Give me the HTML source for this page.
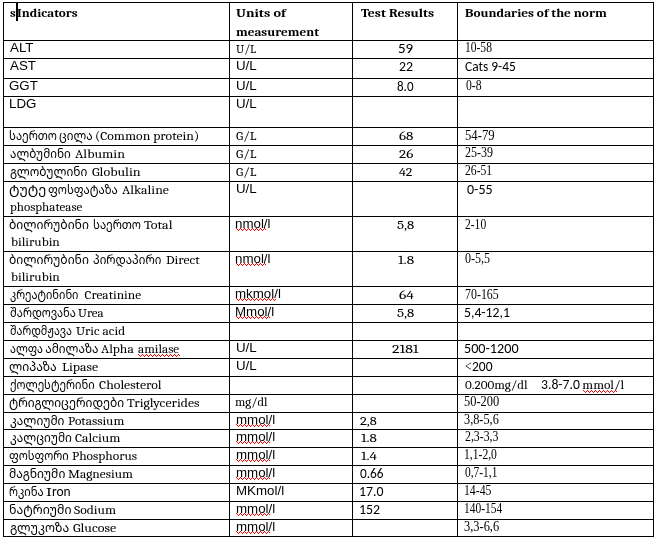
<!DOCTYPE html>
<html lang="ka"><head><meta charset="utf-8"><title>Indicators</title>
<style>
html,body{margin:0;padding:0;background:#fff;}
body{width:659px;height:544px;position:relative;overflow:hidden;color:#000;}
table{position:absolute;left:3px;top:2px;border-collapse:separate;border-spacing:0;table-layout:fixed;width:651px;border-left:1px solid #000;border-top:1px solid #000;}
td{position:relative;padding:0;border-right:1px solid #000;border-bottom:1px solid #000;vertical-align:top;overflow:visible;}
.t{position:absolute;line-height:16px;white-space:nowrap;transform-origin:0 0;}
.ar{font-family:'Liberation Sans', Arial, sans-serif;font-size:13.7px;font-weight:normal;}
.ca{font-family:'Caladea', 'Liberation Serif', serif;font-size:13.333px;font-weight:normal;}
.cab{font-family:'Caladea', 'Liberation Serif', serif;font-size:12.4px;font-weight:bold;}
.cb{font-family:'Carlito', 'Liberation Sans', sans-serif;font-size:13.333px;font-weight:normal;}
.sy{font-family:'Liberation Serif', serif;font-size:13.8px;font-weight:normal;}
.ge{font-family:'Noto Sans Georgian', 'DejaVu Sans', sans-serif;font-size:11.8px;font-weight:400;}
.cur{position:absolute;left:12px;top:0;width:2px;height:18px;background:#000;}
svg.sq{position:absolute;overflow:visible;}
</style></head><body>
<table>
<colgroup><col style="width:226px"><col style="width:123px"><col style="width:105px"><col style="width:196px"></colgroup>
<tr style="height:38px">
<td><div class="t cab" style="left:6.10px;top:2.00px;transform:scaleX(1.0400);">s</div><div class="t cab" style="left:13.10px;top:2.00px;transform:scaleX(1.0649);">Indicators</div><div class="cur"></div></td>
<td><div class="t cab" style="left:6.40px;top:2.00px;transform:scaleX(1.1477);">Units of</div><div class="t cab" style="left:6.40px;top:21.00px;transform:scaleX(1.0615);">measurement</div></td>
<td><div class="t cab" style="left:8.10px;top:2.00px;transform:scaleX(1.1030);">Test Results</div></td>
<td><div class="t cab" style="left:7.20px;top:2.00px;transform:scaleX(1.0720);">Boundaries of the norm</div></td>
</tr>
<tr style="height:18px">
<td><div class="t ar" style="left:6.00px;top:-1.00px;transform:scaleX(0.9732);">ALT</div></td>
<td><div class="t ca" style="left:6.30px;top:0.00px;transform:scaleX(0.9000);">U/L</div></td>
<td><div class="t cb" style="left:44.88px;top:0.00px;transform:scaleX(1.1250);">59</div></td>
<td><div class="t sy" style="left:7.16px;top:-1.00px;transform:scaleX(0.8355);">10-58</div></td>
</tr>
<tr style="height:20px">
<td><div class="t ar" style="left:6.00px;top:-1.00px;transform:scaleX(0.9732);">AST</div></td>
<td><div class="t ar" style="left:5.53px;top:-1.00px;transform:scaleX(0.9732);">U/L</div></td>
<td><div class="t cb" style="left:46.00px;top:0.00px;transform:scaleX(1.0385);">22</div></td>
<td><div class="t cb" style="left:7.30px;top:0.00px;transform:scaleX(1.0080);">Cats 9-45</div></td>
</tr>
<tr style="height:18px">
<td><div class="t ar" style="left:5.03px;top:-1.00px;transform:scaleX(0.9732);">GGT</div></td>
<td><div class="t ar" style="left:5.53px;top:-1.00px;transform:scaleX(0.9732);">U/L</div></td>
<td><div class="t cb" style="left:43.90px;top:0.00px;transform:scaleX(0.9765);">8.0</div></td>
<td><div class="t sy" style="left:8.00px;top:-1.00px;transform:scaleX(0.8444);">0-8</div></td>
</tr>
<tr style="height:31px">
<td><div class="t ar" style="left:5.03px;top:-1.00px;transform:scaleX(0.9732);">LDG</div></td>
<td><div class="t ar" style="left:5.53px;top:-1.00px;transform:scaleX(0.9732);">U/L</div></td>
<td></td>
<td></td>
</tr>
<tr style="height:18px">
<td><div class="t ge" style="left:5.43px;top:-1.00px;transform:scaleX(0.9667);">საერთო</div><div class="t ge" style="left:55.01px;top:-1.00px;transform:scaleX(0.9906);">ცილა</div><div class="t ca" style="left:91.27px;top:0.00px;transform:scaleX(1.0250);">(Common protein)</div></td>
<td><div class="t ca" style="left:6.20px;top:0.00px;transform:scaleX(0.9950);">G/L</div></td>
<td><div class="t ca" style="left:45.80px;top:0.00px;transform:scaleX(1.1333);">68</div></td>
<td><div class="t sy" style="left:6.68px;top:0.00px;transform:scaleX(0.9226);">54-79</div></td>
</tr>
<tr style="height:18px">
<td><div class="t ge" style="left:6.10px;top:-1.00px;transform:scaleX(0.9902);">ალბუმინი</div><div class="t ca" style="left:71.20px;top:0.00px;transform:scaleX(1.0468);">Albumin</div></td>
<td><div class="t ca" style="left:6.20px;top:0.00px;transform:scaleX(0.9950);">G/L</div></td>
<td><div class="t ca" style="left:45.80px;top:0.00px;transform:scaleX(1.1333);">26</div></td>
<td><div class="t sy" style="left:7.30px;top:-1.00px;transform:scaleX(0.8688);">25-39</div></td>
</tr>
<tr style="height:18px">
<td><div class="t ge" style="left:6.30px;top:-1.00px;transform:scaleX(1.0066);">გლობულინი</div><div class="t ca" style="left:87.50px;top:0.00px;transform:scaleX(1.0543);">Globulin</div></td>
<td><div class="t ca" style="left:6.20px;top:0.00px;transform:scaleX(0.9950);">G/L</div></td>
<td><div class="t ca" style="left:45.80px;top:0.00px;transform:scaleX(1.0462);">42</div></td>
<td><div class="t sy" style="left:7.30px;top:-1.00px;transform:scaleX(0.8452);">26-51</div></td>
</tr>
<tr style="height:35px">
<td><div class="t ge" style="left:5.14px;top:-1.00px;transform:scaleX(1.1600);">ტუტე</div><div class="t ge" style="left:44.23px;top:-1.00px;transform:scaleX(0.9662);">ფოსფატაზა</div><div class="t ca" style="left:117.90px;top:0.00px;transform:scaleX(1.0333);">Alkaline</div><div class="t ca" style="left:6.30px;top:17.00px;transform:scaleX(0.9770);">phosphatease</div></td>
<td><div class="t ar" style="left:5.53px;top:-1.00px;transform:scaleX(0.9732);">U/L</div></td>
<td></td>
<td><div class="t cb" style="left:8.80px;top:0.00px;transform:scaleX(1.0500);">0-55</div></td>
</tr>
<tr style="height:35px">
<td><div class="t ge" style="left:5.27px;top:-1.00px;transform:scaleX(1.0263);">ბილირუბინი</div><div class="t ge" style="left:88.53px;top:-1.00px;transform:scaleX(0.9667);">საერთო</div><div class="t ca" style="left:140.00px;top:0.00px;transform:scaleX(1.0519);">Total</div><div class="t ca" style="left:6.90px;top:17.00px;transform:scaleX(1.0063);">bilirubin</div></td>
<td><div class="t ar" style="left:5.43px;top:-1.00px;transform:scaleX(0.9732);">nmol/l</div><svg class="sq" style="left:6px;top:11px" width="30" height="3" shape-rendering="crispEdges"><path d="M0 0h1v1h-1zM1 1h1v1h-1zM2 2h1v1h-1zM3 1h1v1h-1zM4 0h1v1h-1zM5 1h1v1h-1zM6 2h1v1h-1zM7 1h1v1h-1zM8 0h1v1h-1zM9 1h1v1h-1zM10 2h1v1h-1zM11 1h1v1h-1zM12 0h1v1h-1zM13 1h1v1h-1zM14 2h1v1h-1zM15 1h1v1h-1zM16 0h1v1h-1zM17 1h1v1h-1zM18 2h1v1h-1zM19 1h1v1h-1zM20 0h1v1h-1zM21 1h1v1h-1zM22 2h1v1h-1zM23 1h1v1h-1zM24 0h1v1h-1zM25 1h1v1h-1zM26 2h1v1h-1zM27 1h1v1h-1zM28 0h1v1h-1zM29 1h1v1h-1z" fill="#f00"/></svg></td>
<td><div class="t ca" style="left:43.80px;top:0.00px;transform:scaleX(1.1133);">5,8</div></td>
<td><div class="t sy" style="left:7.40px;top:0.00px;transform:scaleX(0.8360);">2-10</div></td>
</tr>
<tr style="height:35px">
<td><div class="t ge" style="left:5.27px;top:-1.00px;transform:scaleX(1.0263);">ბილირუბინი</div><div class="t ge" style="left:89.20px;top:-1.00px;transform:scaleX(0.9797);">პირდაპირი</div><div class="t ca" style="left:162.30px;top:0.00px;transform:scaleX(1.0242);">Direct</div><div class="t ca" style="left:6.90px;top:17.00px;transform:scaleX(1.0063);">bilirubin</div></td>
<td><div class="t ar" style="left:5.43px;top:-1.00px;transform:scaleX(0.9732);">nmol/l</div><svg class="sq" style="left:6px;top:11px" width="30" height="3" shape-rendering="crispEdges"><path d="M0 0h1v1h-1zM1 1h1v1h-1zM2 2h1v1h-1zM3 1h1v1h-1zM4 0h1v1h-1zM5 1h1v1h-1zM6 2h1v1h-1zM7 1h1v1h-1zM8 0h1v1h-1zM9 1h1v1h-1zM10 2h1v1h-1zM11 1h1v1h-1zM12 0h1v1h-1zM13 1h1v1h-1zM14 2h1v1h-1zM15 1h1v1h-1zM16 0h1v1h-1zM17 1h1v1h-1zM18 2h1v1h-1zM19 1h1v1h-1zM20 0h1v1h-1zM21 1h1v1h-1zM22 2h1v1h-1zM23 1h1v1h-1zM24 0h1v1h-1zM25 1h1v1h-1zM26 2h1v1h-1zM27 1h1v1h-1zM28 0h1v1h-1zM29 1h1v1h-1z" fill="#f00"/></svg></td>
<td><div class="t ca" style="left:44.50px;top:0.00px;transform:scaleX(1.1429);">1.8</div></td>
<td><div class="t sy" style="left:7.40px;top:-1.00px;transform:scaleX(0.8714);">0-5,5</div></td>
</tr>
<tr style="height:18px">
<td><div class="t ge" style="left:5.90px;top:-1.00px;transform:scaleX(0.9384);">კრეატინინი</div><div class="t ca" style="left:80.50px;top:0.00px;">Creatinine</div></td>
<td><div class="t ar" style="left:5.43px;top:-1.00px;transform:scaleX(0.9732);">mkmol/l</div><svg class="sq" style="left:6px;top:11px" width="40" height="3" shape-rendering="crispEdges"><path d="M0 0h1v1h-1zM1 1h1v1h-1zM2 2h1v1h-1zM3 1h1v1h-1zM4 0h1v1h-1zM5 1h1v1h-1zM6 2h1v1h-1zM7 1h1v1h-1zM8 0h1v1h-1zM9 1h1v1h-1zM10 2h1v1h-1zM11 1h1v1h-1zM12 0h1v1h-1zM13 1h1v1h-1zM14 2h1v1h-1zM15 1h1v1h-1zM16 0h1v1h-1zM17 1h1v1h-1zM18 2h1v1h-1zM19 1h1v1h-1zM20 0h1v1h-1zM21 1h1v1h-1zM22 2h1v1h-1zM23 1h1v1h-1zM24 0h1v1h-1zM25 1h1v1h-1zM26 2h1v1h-1zM27 1h1v1h-1zM28 0h1v1h-1zM29 1h1v1h-1zM30 2h1v1h-1zM31 1h1v1h-1zM32 0h1v1h-1zM33 1h1v1h-1zM34 2h1v1h-1zM35 1h1v1h-1zM36 0h1v1h-1zM37 1h1v1h-1zM38 2h1v1h-1zM39 1h1v1h-1z" fill="#f00"/></svg></td>
<td><div class="t ca" style="left:45.90px;top:0.00px;transform:scaleX(1.1583);">64</div></td>
<td><div class="t sy" style="left:7.24px;top:0.00px;transform:scaleX(0.8632);">70-165</div></td>
</tr>
<tr style="height:18px">
<td><div class="t ge" style="left:5.90px;top:-1.00px;transform:scaleX(0.9493);">შარდოვანა</div><div class="t ca" style="left:74.30px;top:0.00px;transform:scaleX(0.9731);">Urea</div></td>
<td><div class="t ar" style="left:5.43px;top:-1.00px;transform:scaleX(0.9732);">Mmol/l</div><svg class="sq" style="left:6px;top:11px" width="34" height="3" shape-rendering="crispEdges"><path d="M0 0h1v1h-1zM1 1h1v1h-1zM2 2h1v1h-1zM3 1h1v1h-1zM4 0h1v1h-1zM5 1h1v1h-1zM6 2h1v1h-1zM7 1h1v1h-1zM8 0h1v1h-1zM9 1h1v1h-1zM10 2h1v1h-1zM11 1h1v1h-1zM12 0h1v1h-1zM13 1h1v1h-1zM14 2h1v1h-1zM15 1h1v1h-1zM16 0h1v1h-1zM17 1h1v1h-1zM18 2h1v1h-1zM19 1h1v1h-1zM20 0h1v1h-1zM21 1h1v1h-1zM22 2h1v1h-1zM23 1h1v1h-1zM24 0h1v1h-1zM25 1h1v1h-1zM26 2h1v1h-1zM27 1h1v1h-1zM28 0h1v1h-1zM29 1h1v1h-1zM30 2h1v1h-1zM31 1h1v1h-1zM32 0h1v1h-1zM33 1h1v1h-1z" fill="#f00"/></svg></td>
<td><div class="t ca" style="left:43.80px;top:0.00px;transform:scaleX(1.1133);">5,8</div></td>
<td><div class="t cb" style="left:6.07px;top:0.00px;transform:scaleX(1.0302);">5,4-12,1</div></td>
</tr>
<tr style="height:18px">
<td><div class="t ge" style="left:5.90px;top:-1.00px;transform:scaleX(0.9224);">შარდმჟავა</div><div class="t ca" style="left:71.90px;top:0.00px;">Uric acid</div></td>
<td></td>
<td></td>
<td></td>
</tr>
<tr style="height:18px">
<td><div class="t ge" style="left:6.30px;top:-1.00px;transform:scaleX(0.9229);">ალფა</div><div class="t ge" style="left:41.20px;top:-1.00px;">ამილაზა</div><div class="t ca" style="left:97.10px;top:0.00px;transform:scaleX(1.0187);">Alpha</div><div class="t ca" style="left:134.40px;top:0.00px;transform:scaleX(0.9833);">amilase</div><svg class="sq" style="left:134px;top:13px" width="42" height="3" shape-rendering="crispEdges"><path d="M0 0h1v1h-1zM1 1h1v1h-1zM2 2h1v1h-1zM3 1h1v1h-1zM4 0h1v1h-1zM5 1h1v1h-1zM6 2h1v1h-1zM7 1h1v1h-1zM8 0h1v1h-1zM9 1h1v1h-1zM10 2h1v1h-1zM11 1h1v1h-1zM12 0h1v1h-1zM13 1h1v1h-1zM14 2h1v1h-1zM15 1h1v1h-1zM16 0h1v1h-1zM17 1h1v1h-1zM18 2h1v1h-1zM19 1h1v1h-1zM20 0h1v1h-1zM21 1h1v1h-1zM22 2h1v1h-1zM23 1h1v1h-1zM24 0h1v1h-1zM25 1h1v1h-1zM26 2h1v1h-1zM27 1h1v1h-1zM28 0h1v1h-1zM29 1h1v1h-1zM30 2h1v1h-1zM31 1h1v1h-1zM32 0h1v1h-1zM33 1h1v1h-1zM34 2h1v1h-1zM35 1h1v1h-1zM36 0h1v1h-1zM37 1h1v1h-1zM38 2h1v1h-1zM39 1h1v1h-1zM40 0h1v1h-1zM41 1h1v1h-1z" fill="#f00"/></svg></td>
<td><div class="t ar" style="left:5.53px;top:-1.00px;transform:scaleX(0.9732);">U/L</div></td>
<td><div class="t ca" style="left:39.30px;top:0.00px;transform:scaleX(1.1864);">2181</div></td>
<td><div class="t cb" style="left:6.04px;top:0.00px;transform:scaleX(1.0620);">500-1200</div></td>
</tr>
<tr style="height:18px">
<td><div class="t ge" style="left:4.87px;top:-1.00px;transform:scaleX(1.0289);">ლიპაზა</div><div class="t ca" style="left:58.46px;top:0.00px;transform:scaleX(1.0424);">Lipase</div></td>
<td><div class="t ar" style="left:5.53px;top:-1.00px;transform:scaleX(0.9732);">U/L</div></td>
<td></td>
<td><div class="t sy" style="left:6.97px;top:0.00px;transform:scaleX(0.8333);">&lt;</div><div class="t cb" style="left:14.00px;top:0.00px;transform:scaleX(1.0150);">200</div></td>
</tr>
<tr style="height:18px">
<td><div class="t ge" style="left:5.90px;top:-1.00px;transform:scaleX(0.9483);">ქოლესტერინი</div><div class="t ca" style="left:95.40px;top:0.00px;transform:scaleX(1.0333);">Cholesterol</div></td>
<td></td>
<td></td>
<td><div class="t ca" style="left:7.20px;top:0.00px;transform:scaleX(0.9825);">0.200mg/dl</div><div class="t cb" style="left:82.97px;top:0.00px;transform:scaleX(1.0270);">3.8-7.0</div><div class="t ca" style="left:124.30px;top:0.00px;">mmol/l</div><svg class="sq" style="left:125px;top:13px" width="34" height="3" shape-rendering="crispEdges"><path d="M0 0h1v1h-1zM1 1h1v1h-1zM2 2h1v1h-1zM3 1h1v1h-1zM4 0h1v1h-1zM5 1h1v1h-1zM6 2h1v1h-1zM7 1h1v1h-1zM8 0h1v1h-1zM9 1h1v1h-1zM10 2h1v1h-1zM11 1h1v1h-1zM12 0h1v1h-1zM13 1h1v1h-1zM14 2h1v1h-1zM15 1h1v1h-1zM16 0h1v1h-1zM17 1h1v1h-1zM18 2h1v1h-1zM19 1h1v1h-1zM20 0h1v1h-1zM21 1h1v1h-1zM22 2h1v1h-1zM23 1h1v1h-1zM24 0h1v1h-1zM25 1h1v1h-1zM26 2h1v1h-1zM27 1h1v1h-1zM28 0h1v1h-1zM29 1h1v1h-1zM30 2h1v1h-1zM31 1h1v1h-1zM32 0h1v1h-1zM33 1h1v1h-1z" fill="#f00"/></svg></td>
</tr>
<tr style="height:18px">
<td><div class="t ge" style="left:4.89px;top:-1.00px;transform:scaleX(1.0125);">ტრიგლიცერიდები</div><div class="t ca" style="left:122.80px;top:0.00px;transform:scaleX(1.0357);">Triglycerides</div></td>
<td><div class="t ca" style="left:5.35px;top:-1.00px;transform:scaleX(0.9545);">mg/dl</div></td>
<td></td>
<td><div class="t sy" style="left:6.20px;top:-1.00px;transform:scaleX(0.9000);">50-200</div></td>
</tr>
<tr style="height:17px">
<td><div class="t ge" style="left:5.90px;top:-1.00px;transform:scaleX(1.0151);">კალიუმი</div><div class="t ca" style="left:64.30px;top:0.00px;transform:scaleX(1.0036);">Potassium</div></td>
<td><div class="t ar" style="left:5.63px;top:-1.00px;transform:scaleX(0.9732);">mmol/l</div><svg class="sq" style="left:6px;top:11px" width="34" height="3" shape-rendering="crispEdges"><path d="M0 0h1v1h-1zM1 1h1v1h-1zM2 2h1v1h-1zM3 1h1v1h-1zM4 0h1v1h-1zM5 1h1v1h-1zM6 2h1v1h-1zM7 1h1v1h-1zM8 0h1v1h-1zM9 1h1v1h-1zM10 2h1v1h-1zM11 1h1v1h-1zM12 0h1v1h-1zM13 1h1v1h-1zM14 2h1v1h-1zM15 1h1v1h-1zM16 0h1v1h-1zM17 1h1v1h-1zM18 2h1v1h-1zM19 1h1v1h-1zM20 0h1v1h-1zM21 1h1v1h-1zM22 2h1v1h-1zM23 1h1v1h-1zM24 0h1v1h-1zM25 1h1v1h-1zM26 2h1v1h-1zM27 1h1v1h-1zM28 0h1v1h-1zM29 1h1v1h-1zM30 2h1v1h-1zM31 1h1v1h-1zM32 0h1v1h-1zM33 1h1v1h-1z" fill="#f00"/></svg></td>
<td><div class="t ca" style="left:7.10px;top:0.00px;transform:scaleX(1.0800);">2,8</div></td>
<td><div class="t sy" style="left:6.31px;top:-1.00px;transform:scaleX(0.8895);">3,8-5,6</div></td>
</tr>
<tr style="height:18px">
<td><div class="t ge" style="left:5.90px;top:-1.00px;transform:scaleX(1.0066);">კალციუმი</div><div class="t ca" style="left:71.30px;top:0.00px;transform:scaleX(1.0295);">Calcium</div></td>
<td><div class="t ar" style="left:5.63px;top:-1.00px;transform:scaleX(0.9732);">mmol/l</div><svg class="sq" style="left:6px;top:11px" width="34" height="3" shape-rendering="crispEdges"><path d="M0 0h1v1h-1zM1 1h1v1h-1zM2 2h1v1h-1zM3 1h1v1h-1zM4 0h1v1h-1zM5 1h1v1h-1zM6 2h1v1h-1zM7 1h1v1h-1zM8 0h1v1h-1zM9 1h1v1h-1zM10 2h1v1h-1zM11 1h1v1h-1zM12 0h1v1h-1zM13 1h1v1h-1zM14 2h1v1h-1zM15 1h1v1h-1zM16 0h1v1h-1zM17 1h1v1h-1zM18 2h1v1h-1zM19 1h1v1h-1zM20 0h1v1h-1zM21 1h1v1h-1zM22 2h1v1h-1zM23 1h1v1h-1zM24 0h1v1h-1zM25 1h1v1h-1zM26 2h1v1h-1zM27 1h1v1h-1zM28 0h1v1h-1zM29 1h1v1h-1zM30 2h1v1h-1zM31 1h1v1h-1zM32 0h1v1h-1zM33 1h1v1h-1z" fill="#f00"/></svg></td>
<td><div class="t ca" style="left:7.50px;top:0.00px;transform:scaleX(1.1286);">1.8</div></td>
<td><div class="t sy" style="left:7.20px;top:-1.00px;transform:scaleX(0.8564);">2,3-3,3</div></td>
</tr>
<tr style="height:18px">
<td><div class="t ge" style="left:4.94px;top:-1.00px;transform:scaleX(0.9557);">ფოსფორი</div><div class="t ca" style="left:68.10px;top:0.00px;transform:scaleX(1.0078);">Phosphorus</div></td>
<td><div class="t ar" style="left:5.63px;top:-1.00px;transform:scaleX(0.9732);">mmol/l</div><svg class="sq" style="left:6px;top:11px" width="34" height="3" shape-rendering="crispEdges"><path d="M0 0h1v1h-1zM1 1h1v1h-1zM2 2h1v1h-1zM3 1h1v1h-1zM4 0h1v1h-1zM5 1h1v1h-1zM6 2h1v1h-1zM7 1h1v1h-1zM8 0h1v1h-1zM9 1h1v1h-1zM10 2h1v1h-1zM11 1h1v1h-1zM12 0h1v1h-1zM13 1h1v1h-1zM14 2h1v1h-1zM15 1h1v1h-1zM16 0h1v1h-1zM17 1h1v1h-1zM18 2h1v1h-1zM19 1h1v1h-1zM20 0h1v1h-1zM21 1h1v1h-1zM22 2h1v1h-1zM23 1h1v1h-1zM24 0h1v1h-1zM25 1h1v1h-1zM26 2h1v1h-1zM27 1h1v1h-1zM28 0h1v1h-1zM29 1h1v1h-1zM30 2h1v1h-1zM31 1h1v1h-1zM32 0h1v1h-1zM33 1h1v1h-1z" fill="#f00"/></svg></td>
<td><div class="t ca" style="left:7.50px;top:0.00px;transform:scaleX(1.1286);">1.4</div></td>
<td><div class="t sy" style="left:6.36px;top:-1.00px;transform:scaleX(0.8421);">1,1-2,0</div></td>
</tr>
<tr style="height:18px">
<td><div class="t ge" style="left:4.88px;top:-1.00px;transform:scaleX(1.0241);">მაგნიუმი</div><div class="t ca" style="left:64.39px;top:0.00px;transform:scaleX(1.0063);">Magnesium</div></td>
<td><div class="t ar" style="left:5.63px;top:-1.00px;transform:scaleX(0.9732);">mmol/l</div><svg class="sq" style="left:6px;top:11px" width="34" height="3" shape-rendering="crispEdges"><path d="M0 0h1v1h-1zM1 1h1v1h-1zM2 2h1v1h-1zM3 1h1v1h-1zM4 0h1v1h-1zM5 1h1v1h-1zM6 2h1v1h-1zM7 1h1v1h-1zM8 0h1v1h-1zM9 1h1v1h-1zM10 2h1v1h-1zM11 1h1v1h-1zM12 0h1v1h-1zM13 1h1v1h-1zM14 2h1v1h-1zM15 1h1v1h-1zM16 0h1v1h-1zM17 1h1v1h-1zM18 2h1v1h-1zM19 1h1v1h-1zM20 0h1v1h-1zM21 1h1v1h-1zM22 2h1v1h-1zM23 1h1v1h-1zM24 0h1v1h-1zM25 1h1v1h-1zM26 2h1v1h-1zM27 1h1v1h-1zM28 0h1v1h-1zM29 1h1v1h-1zM30 2h1v1h-1zM31 1h1v1h-1zM32 0h1v1h-1zM33 1h1v1h-1z" fill="#f00"/></svg></td>
<td><div class="t cb" style="left:7.00px;top:0.00px;">0.66</div></td>
<td><div class="t sy" style="left:7.20px;top:-1.00px;transform:scaleX(0.8289);">0,7-1,1</div></td>
</tr>
<tr style="height:18px">
<td><div class="t ge" style="left:4.95px;top:-1.00px;transform:scaleX(0.9514);">რკინა</div><div class="t ca" style="left:42.33px;top:0.00px;transform:scaleX(1.2667);">I</div><div class="t cb" style="left:47.89px;top:0.00px;transform:scaleX(1.0118);">ron</div></td>
<td><div class="t ar" style="left:5.63px;top:-1.00px;transform:scaleX(0.9732);">MKmol/l</div></td>
<td><div class="t cb" style="left:6.46px;top:0.00px;transform:scaleX(1.0364);">17.0</div></td>
<td><div class="t sy" style="left:6.35px;top:-1.00px;transform:scaleX(0.8516);">14-45</div></td>
</tr>
<tr style="height:18px">
<td><div class="t ge" style="left:4.85px;top:-1.00px;transform:scaleX(1.0466);">ნატრიუმი</div><div class="t ca" style="left:69.60px;top:0.00px;transform:scaleX(1.0220);">Sodium</div></td>
<td><div class="t ar" style="left:5.63px;top:-1.00px;transform:scaleX(0.9732);">mmol/l</div><svg class="sq" style="left:6px;top:11px" width="34" height="3" shape-rendering="crispEdges"><path d="M0 0h1v1h-1zM1 1h1v1h-1zM2 2h1v1h-1zM3 1h1v1h-1zM4 0h1v1h-1zM5 1h1v1h-1zM6 2h1v1h-1zM7 1h1v1h-1zM8 0h1v1h-1zM9 1h1v1h-1zM10 2h1v1h-1zM11 1h1v1h-1zM12 0h1v1h-1zM13 1h1v1h-1zM14 2h1v1h-1zM15 1h1v1h-1zM16 0h1v1h-1zM17 1h1v1h-1zM18 2h1v1h-1zM19 1h1v1h-1zM20 0h1v1h-1zM21 1h1v1h-1zM22 2h1v1h-1zM23 1h1v1h-1zM24 0h1v1h-1zM25 1h1v1h-1zM26 2h1v1h-1zM27 1h1v1h-1zM28 0h1v1h-1zM29 1h1v1h-1zM30 2h1v1h-1zM31 1h1v1h-1zM32 0h1v1h-1zM33 1h1v1h-1z" fill="#f00"/></svg></td>
<td><div class="t cb" style="left:6.46px;top:0.00px;transform:scaleX(1.0421);">152</div></td>
<td><div class="t sy" style="left:6.37px;top:-1.00px;transform:scaleX(0.8289);">140-154</div></td>
</tr>
<tr style="height:17px">
<td><div class="t ge" style="left:5.90px;top:-1.00px;transform:scaleX(1.0518);">გლუკოზა</div><div class="t ca" style="left:68.50px;top:0.00px;transform:scaleX(1.0488);">Glucose</div></td>
<td><div class="t ar" style="left:5.63px;top:-1.00px;transform:scaleX(0.9732);">mmol/l</div><svg class="sq" style="left:6px;top:11px" width="34" height="3" shape-rendering="crispEdges"><path d="M0 0h1v1h-1zM1 1h1v1h-1zM2 2h1v1h-1zM3 1h1v1h-1zM4 0h1v1h-1zM5 1h1v1h-1zM6 2h1v1h-1zM7 1h1v1h-1zM8 0h1v1h-1zM9 1h1v1h-1zM10 2h1v1h-1zM11 1h1v1h-1zM12 0h1v1h-1zM13 1h1v1h-1zM14 2h1v1h-1zM15 1h1v1h-1zM16 0h1v1h-1zM17 1h1v1h-1zM18 2h1v1h-1zM19 1h1v1h-1zM20 0h1v1h-1zM21 1h1v1h-1zM22 2h1v1h-1zM23 1h1v1h-1zM24 0h1v1h-1zM25 1h1v1h-1zM26 2h1v1h-1zM27 1h1v1h-1zM28 0h1v1h-1zM29 1h1v1h-1zM30 2h1v1h-1zM31 1h1v1h-1zM32 0h1v1h-1zM33 1h1v1h-1z" fill="#f00"/></svg></td>
<td></td>
<td><div class="t sy" style="left:6.30px;top:-1.00px;transform:scaleX(0.9000);">3,3-6,6</div></td>
</tr>
</table>
</body></html>
